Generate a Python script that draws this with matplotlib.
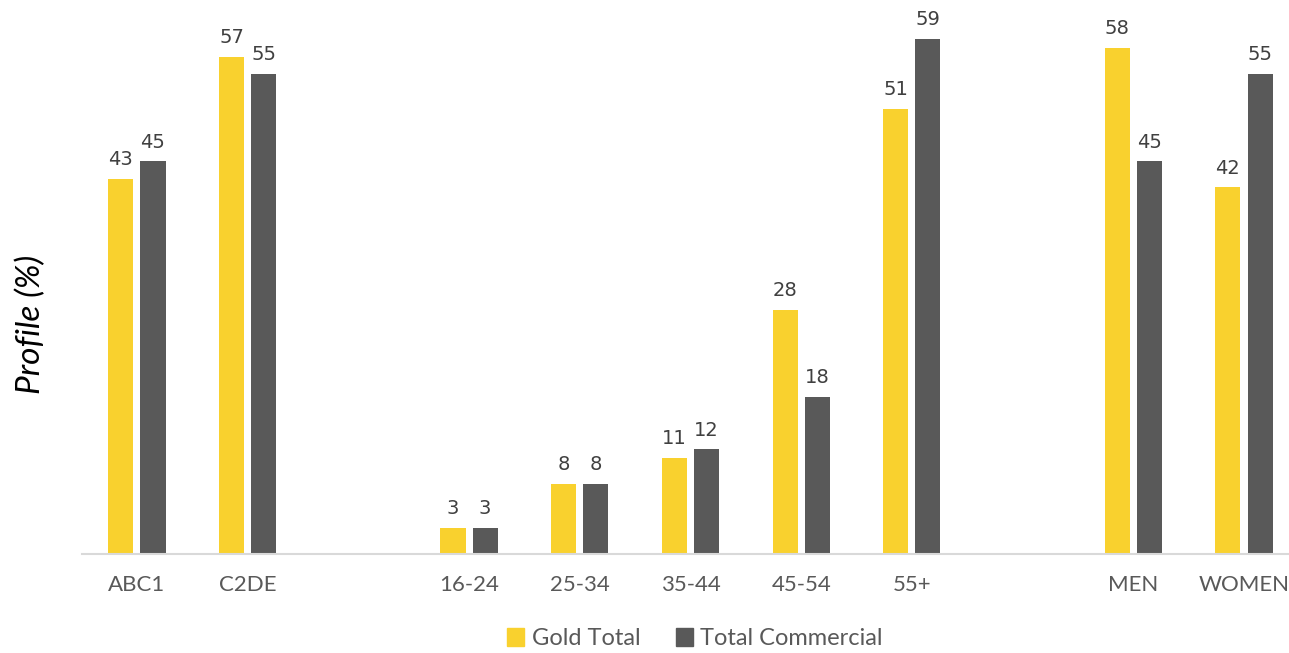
import numpy as np
import matplotlib.pyplot as plt
from matplotlib.patches import Patch

# Profile data: social grade, age band, gender (blank slots separate groups)
categories = ['ABC1', 'C2DE', '', '16-24', '25-34', '35-44', '45-54', '55+', '', 'MEN', 'WOMEN']
gold_total = [43, 57, None, 3, 8, 11, 28, 51, None, 58, 42]
total_commercial = [45, 55, None, 3, 8, 12, 18, 59, None, 45, 55]

gold_color = '#F9D12E'
grey_color = '#595959'

fig = plt.figure(figsize=(12.89, 6.53), dpi=100)
ax = fig.add_axes([0.0633, 0.1516, 0.9447, 0.846])

x = np.arange(len(categories))
w = 0.226
off = 0.145

for i, (g, c) in enumerate(zip(gold_total, total_commercial)):
    if g is None:
        continue
    ax.bar(x[i] - off, g, width=w, color=gold_color, zorder=2)
    ax.bar(x[i] + off, c, width=w, color=grey_color, zorder=2)
    for xx, v in ((x[i] - off, g), (x[i] + off, c)):
        ax.annotate(str(v), (xx, v), xytext=(0, 7), textcoords='offset points',
                    ha='center', va='bottom', fontsize=14, color='#404040',
                    family='DejaVu Sans')

ax.set_xlim(-0.5, len(categories) - 0.5)
ax.set_ylim(0, 63.3)
ax.set_xticks(x)
ax.set_xticklabels(categories, fontsize=16, color='#595959', family='Lato')
ax.tick_params(axis='x', length=0, pad=15)
ax.set_yticks([])
for s in ['top', 'right', 'left']:
    ax.spines[s].set_visible(False)
ax.spines['bottom'].set_color('#d9d9d9')
ax.spines['bottom'].set_linewidth(1.5)

fig.text(0.024, 0.503, 'Profile (%)', rotation=90, va='center', ha='center',
         fontsize=24, style='italic', family='Lato', color='black')

handles = [Patch(color=gold_color, label='Gold Total'),
           Patch(color=grey_color, label='Total Commercial')]
fig.legend(handles=handles, loc='center', bbox_to_anchor=(0.539, 0.022),
           ncol=2, frameon=False, handlelength=0.75, handleheight=0.75,
           handletextpad=0.3, columnspacing=1.5,
           prop={'family': 'Lato', 'size': 17}, labelcolor='#595959')

fig.savefig('out.png', dpi=100)
